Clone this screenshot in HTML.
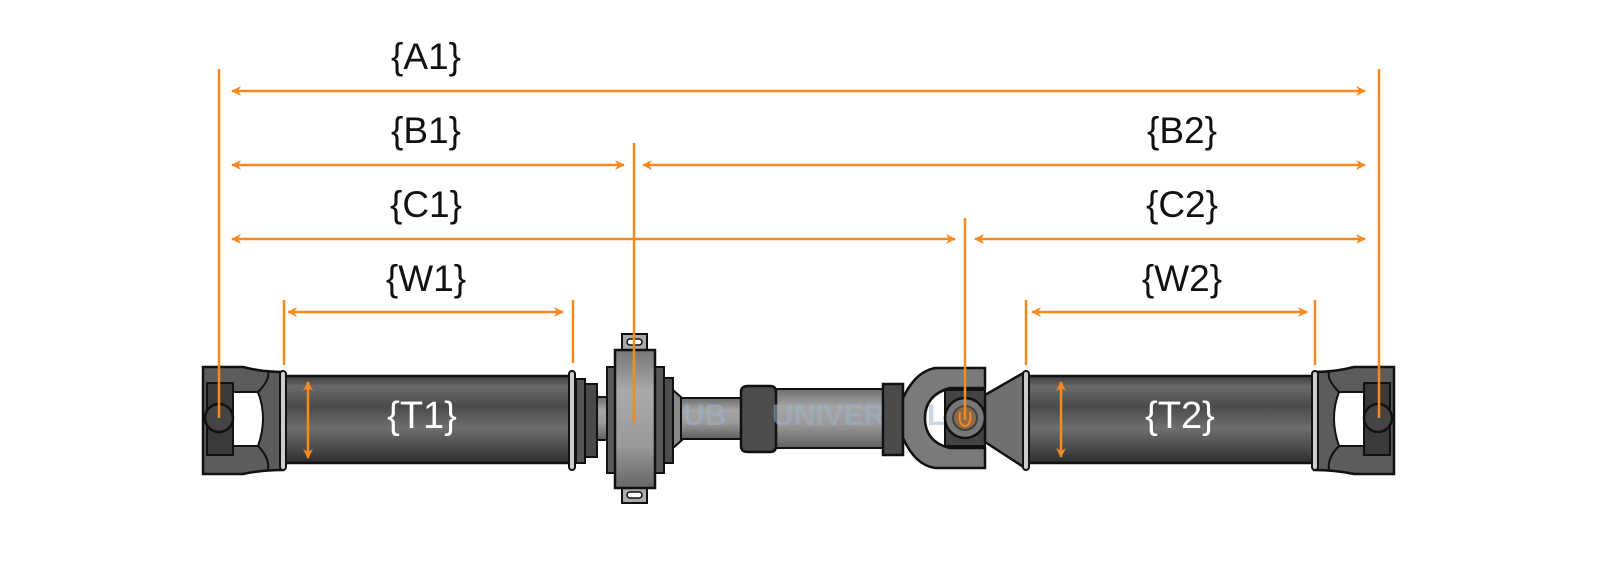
<!DOCTYPE html>
<html><head><meta charset="utf-8"><style>
html,body{margin:0;padding:0;background:#fff;}
svg{display:block;}
text{font-family:"Liberation Sans",Arial,sans-serif;}
</style></head><body>
<svg width="1600" height="568" viewBox="0 0 1600 568" xmlns="http://www.w3.org/2000/svg">
<defs>
<linearGradient id="tube" x1="0" y1="0" x2="0" y2="1">
<stop offset="0" stop-color="#3a3a3a"/><stop offset="0.12" stop-color="#6a6a6a"/><stop offset="0.35" stop-color="#4a4a4a"/><stop offset="0.6" stop-color="#6e6e6e"/><stop offset="0.85" stop-color="#474747"/><stop offset="1" stop-color="#2e2e2e"/>
</linearGradient>
<linearGradient id="light" x1="0" y1="0" x2="0" y2="1">
<stop offset="0" stop-color="#6d6d6d"/><stop offset="0.3" stop-color="#a5a5a5"/><stop offset="0.6" stop-color="#9a9a9a"/><stop offset="1" stop-color="#5f5f5f"/>
</linearGradient>
<linearGradient id="bear" x1="0" y1="0" x2="0" y2="1">
<stop offset="0" stop-color="#777"/><stop offset="0.3" stop-color="#aaa"/><stop offset="0.7" stop-color="#999"/><stop offset="1" stop-color="#666"/>
</linearGradient>
<marker id="ah" markerWidth="10" markerHeight="10" refX="9" refY="5" orient="auto-start-reverse" markerUnits="userSpaceOnUse">
<path d="M0,0 L10,5 L0,10 L3,5 Z" fill="#f7891f"/></marker>
<g id="yoke">
<path d="M203,367 L243,367 Q262,372 283,372 L283,470 Q262,470 243,474 L203,474 Z" fill="#5c5c5c" stroke="#111" stroke-width="2.5"/>
<rect x="207" y="383" width="26" height="72" fill="#3a3a3a" stroke="#111" stroke-width="2"/>
<path d="M233,392 L258,392 Q268,418 258,446 L233,446 Z" fill="#fff" stroke="#111" stroke-width="2"/>
<path d="M258,392 Q270,380 268,372 M258,446 Q270,458 268,470" fill="none" stroke="#111" stroke-width="2"/>
<circle cx="219" cy="418" r="14" fill="#444" stroke="#111" stroke-width="2.5"/>
</g>
</defs>

<!-- left yoke -->
<use href="#yoke"/>
<!-- right yoke mirrored: 203..283 -> 1394..1314 -->
<use href="#yoke" transform="translate(1597,0) scale(-1,1)"/>

<!-- T1 tube -->
<rect x="285" y="376" width="287" height="87" fill="url(#tube)" stroke="#111" stroke-width="2.5"/>
<rect x="280" y="371" width="6" height="99" rx="3" fill="#ccc" stroke="#111" stroke-width="2"/>
<rect x="569" y="371" width="6" height="99" rx="3" fill="#ccc" stroke="#111" stroke-width="2"/>
<rect x="576" y="379" width="9" height="84" fill="#555" stroke="#111" stroke-width="2"/>
<rect x="585" y="384" width="12" height="73" fill="#4a4a4a" stroke="#111" stroke-width="2"/>
<rect x="597" y="397" width="11" height="43" fill="url(#light)" stroke="#111" stroke-width="2"/>

<!-- bearing -->
<rect x="622" y="334" width="25" height="18" fill="#aaa" stroke="#111" stroke-width="2"/>
<rect x="627" y="339" width="15" height="6" rx="3" fill="#fff" stroke="#111" stroke-width="1.5"/>
<rect x="622" y="486" width="25" height="17" fill="#aaa" stroke="#111" stroke-width="2"/>
<rect x="627" y="492" width="15" height="6" rx="3" fill="#fff" stroke="#111" stroke-width="1.5"/>
<rect x="607" y="367" width="9" height="106" fill="#5a5a5a" stroke="#111" stroke-width="2"/>
<rect x="655" y="367" width="9" height="106" fill="#5a5a5a" stroke="#111" stroke-width="2"/>
<rect x="664" y="378" width="9" height="85" fill="#4d4d4d" stroke="#111" stroke-width="2"/>
<rect x="615" y="350" width="40" height="138" fill="url(#bear)" stroke="#111" stroke-width="2.5"/>

<!-- middle shaft -->
<path d="M673,390 L682,398 L682,440 L673,448 Z" fill="#888" stroke="#111" stroke-width="2"/>
<rect x="681" y="398" width="62" height="41" fill="url(#light)" stroke="#111" stroke-width="2"/>
<rect x="775" y="389" width="109" height="59" fill="url(#light)" stroke="#111" stroke-width="2"/>
<path d="M748,386 L770,386 Q776,386 776,392 L776,446 Q776,452 770,452 L748,452 Q741,452 741,446 L741,392 Q741,386 748,386 Z" fill="#4d4d4d" stroke="#111" stroke-width="2.5"/>
<text x="683" y="425" font-size="30" font-weight="bold" fill="#9fb3cc" opacity="0.55">UB</text>
<text x="772" y="425" font-size="30" font-weight="bold" fill="#9fb3cc" opacity="0.55">UNIVERSAL</text>
<rect x="883" y="384" width="20" height="71" fill="#4b4b4b" stroke="#111" stroke-width="2.5"/>

<!-- yoke mid -->
<path d="M903,398 Q915,372 935,368 L985,368 L985,388 L950,388 Q925,395 925,418 Q925,442 950,448 L985,448 L985,468 L935,468 Q915,465 903,438 Z" fill="#7a7a7a" stroke="#111" stroke-width="2.5"/>
<rect x="945" y="390" width="40" height="56" fill="#444" stroke="#111" stroke-width="2"/>
<path d="M985,395 L1025,372 L1025,468 L985,442 Z" fill="#707070" stroke="#111" stroke-width="2.5"/>
<circle cx="965" cy="418" r="20" fill="#777" stroke="#111" stroke-width="2.5"/>
<circle cx="965" cy="418" r="12" fill="#8a6a4a" stroke="#444" stroke-width="2"/>
<path d="M960,412 Q958,425 965,426 Q972,425 970,412" fill="none" stroke="#f7891f" stroke-width="2"/>

<!-- T2 tube -->
<rect x="1028" y="376" width="289" height="87" fill="url(#tube)" stroke="#111" stroke-width="2.5"/>
<rect x="1023" y="371" width="6" height="99" rx="3" fill="#ccc" stroke="#111" stroke-width="2"/>
<rect x="1312" y="371" width="6" height="99" rx="3" fill="#ccc" stroke="#111" stroke-width="2"/>

<!-- dimension lines -->
<g stroke="#f7891f" stroke-width="2.5" fill="none">
<line x1="219" y1="69" x2="219" y2="418"/>
<line x1="1379" y1="69" x2="1379" y2="418"/>
<line x1="634" y1="143" x2="634" y2="423"/>
<line x1="965" y1="218" x2="965" y2="420"/>
<line x1="284" y1="300" x2="284" y2="365"/>
<line x1="573" y1="300" x2="573" y2="363"/>
<line x1="1026" y1="300" x2="1026" y2="365"/>
<line x1="1315" y1="300" x2="1315" y2="365"/>
<line x1="232" y1="91" x2="1365" y2="91" marker-start="url(#ah)" marker-end="url(#ah)"/>
<line x1="232" y1="165" x2="624" y2="165" marker-start="url(#ah)" marker-end="url(#ah)"/>
<line x1="643" y1="165" x2="1365" y2="165" marker-start="url(#ah)" marker-end="url(#ah)"/>
<line x1="232" y1="239" x2="955" y2="239" marker-start="url(#ah)" marker-end="url(#ah)"/>
<line x1="975" y1="239" x2="1365" y2="239" marker-start="url(#ah)" marker-end="url(#ah)"/>
<line x1="288" y1="312" x2="563" y2="312" marker-start="url(#ah)" marker-end="url(#ah)"/>
<line x1="1032" y1="312" x2="1307" y2="312" marker-start="url(#ah)" marker-end="url(#ah)"/>
<line x1="308" y1="382" x2="308" y2="458" marker-start="url(#ah)" marker-end="url(#ah)"/>
<line x1="1061" y1="382" x2="1061" y2="457" marker-start="url(#ah)" marker-end="url(#ah)"/>
</g>

<g font-size="37" fill="#111" text-anchor="middle">
<text x="426" y="69">{A1}</text>
<text x="426" y="143">{B1}</text>
<text x="1182" y="143">{B2}</text>
<text x="426" y="217">{C1}</text>
<text x="1182" y="217">{C2}</text>
<text x="426" y="291">{W1}</text>
<text x="1182" y="291">{W2}</text>
</g>
<g font-size="38" fill="#fff" text-anchor="middle">
<text x="422" y="428">{T1}</text>
<text x="1180" y="428">{T2}</text>
</g>
</svg>
</body></html>
